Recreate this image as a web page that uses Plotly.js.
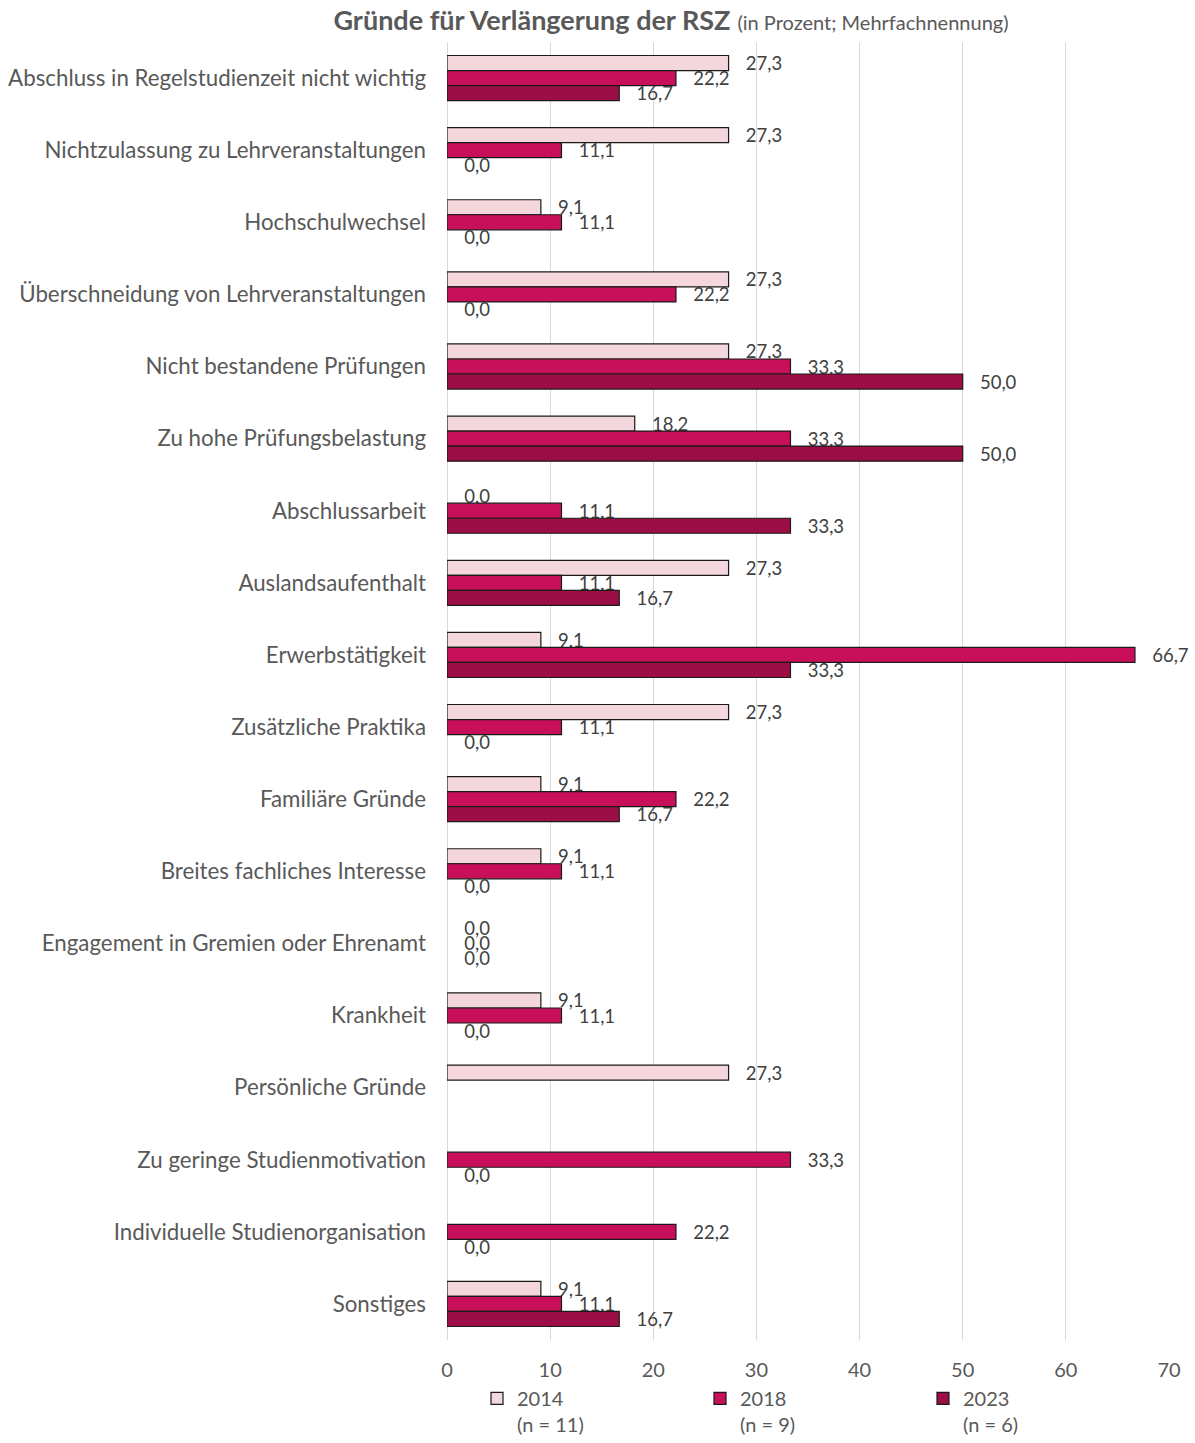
<!DOCTYPE html>
<html>
<head>
<meta charset="utf-8">
<script src="https://cdn.plot.ly/plotly-3.0.1.min.js"></script>
<style>html,body{margin:0;padding:0;background:#fff;}#chart{width:1195px;height:1443px;}</style>
</head>
<body>
<div id="chart"></div>
<script>
const categories = [
  "Abschluss in Regelstudienzeit nicht wichtig",
  "Nichtzulassung zu Lehrveranstaltungen",
  "Hochschulwechsel",
  "Überschneidung von Lehrveranstaltungen",
  "Nicht bestandene Prüfungen",
  "Zu hohe Prüfungsbelastung",
  "Abschlussarbeit",
  "Auslandsaufenthalt",
  "Erwerbstätigkeit",
  "Zusätzliche Praktika",
  "Familiäre Gründe",
  "Breites fachliches Interesse",
  "Engagement in Gremien oder Ehrenamt",
  "Krankheit",
  "Persönliche Gründe",
  "Zu geringe Studienmotivation",
  "Individuelle Studienorganisation",
  "Sonstiges"
];
const v2014 = [27.3, 27.3, 9.1, 27.3, 27.3, 18.2, 0.0, 27.3, 9.1, 27.3, 9.1, 9.1, 0.0, 9.1, 27.3, null, null, 9.1];
const v2018 = [22.2, 11.1, 11.1, 22.2, 33.3, 33.3, 11.1, 11.1, 66.7, 11.1, 22.2, 11.1, 0.0, 11.1, null, 33.3, 22.2, 11.1];
const v2023 = [16.7, 0.0, 0.0, 0.0, 50.0, 50.0, 33.3, 16.7, 33.3, 0.0, 16.7, 0.0, 0.0, 0.0, null, 0.0, 0.0, 16.7];
const seriesNames = ["2014<br>(n = 11)", "2018<br>(n = 9)", "2023<br>(n = 6)"];
const seriesColors = ["#f4d7dd", "#c8105a", "#9c0e46"];
const xTicks = [0, 10, 20, 30, 40, 50, 60, 70];

const FONT = "Lato, 'Open Sans', sans-serif";
const series = [v2014, v2018, v2023];
const traces = series.map((vals, i) => ({
  type: "bar",
  orientation: "h",
  name: seriesNames[i],
  y: categories,
  x: vals,
  marker: {
    color: seriesColors[i],
    line: {color: "#1a1a1a", width: vals.map(v => (v ? 1.2 : 0))}
  },
  texttemplate: "\u00a0\u00a0\u00a0%{x:.1f}",
  textposition: "outside",
  textangle: 0,
  constraintext: "none",
  cliponaxis: false,
  outsidetextfont: {family: FONT, size: 18.5, color: "#404040"},
  hoverinfo: "x+y"
}));

const layout = {
  width: 1195,
  height: 1443,
  separators: ",.",
  paper_bgcolor: "#ffffff",
  plot_bgcolor: "#ffffff",
  margin: {l: 447, r: 26, t: 42, b: 103, autoexpand: false},
  barmode: "group",
  bargap: 0.375,
  bargroupgap: 0,
  font: {family: FONT, color: "#595959"},
  title: {
    text: "<b>Gründe für Verlängerung der RSZ</b> <span style='font-size:20px'>(in Prozent; Mehrfachnennung)</span>",
    font: {family: FONT, size: 27, color: "#595959"},
    x: 671 / 1195,
    xanchor: "center",
    xref: "container",
    y: 1 - 21 / 1443,
    yanchor: "middle",
    yref: "container"
  },
  xaxis: {
    range: [0, 70],
    tickvals: xTicks,
    showgrid: true,
    gridcolor: "#d9d9d9",
    gridwidth: 1,
    zeroline: true,
    zerolinecolor: "#d9d9d9",
    zerolinewidth: 1,
    showline: false,
    ticks: "",
    ticklabelstandoff: 16,
    tickfont: {family: FONT, size: 20, color: "#595959"},
    fixedrange: true
  },
  yaxis: {
    type: "category",
    autorange: "reversed",
    ticks: "",
    showgrid: false,
    zeroline: false,
    showline: false,
    ticklabelstandoff: 20,
    tickfont: {family: FONT, size: 22.3, color: "#595959"},
    fixedrange: true
  },
  showlegend: true,
  legend: {
    orientation: "h",
    x: 30 / 722,
    xanchor: "left",
    y: -0.030,
    yanchor: "top",
    valign: "top",
    entrywidth: 178,
    traceorder: "normal",
    font: {family: FONT, size: 20, color: "#595959"},
    bgcolor: "rgba(0,0,0,0)"
  }
};

Plotly.newPlot("chart", traces, layout, {displayModeBar: false, staticPlot: true});
</script>
</body>
</html>
